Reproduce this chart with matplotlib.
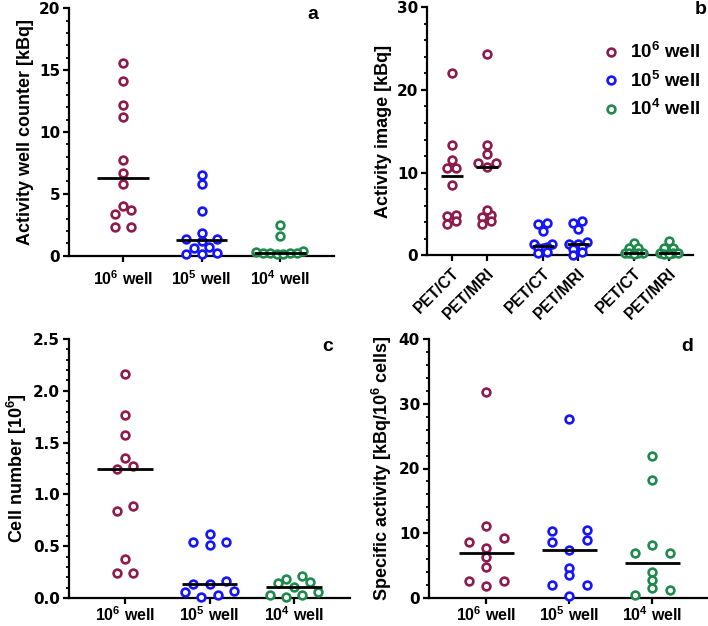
import numpy as np
import matplotlib
matplotlib.use('Agg')
import matplotlib.pyplot as plt
from matplotlib.lines import Line2D
from matplotlib.ticker import MultipleLocator, FormatStrFormatter

plt.rcParams['font.family'] = ['Liberation Sans', 'DejaVu Sans']
plt.rcParams['font.weight'] = 'bold'
plt.rcParams['axes.labelweight'] = 'bold'
plt.rcParams['mathtext.fontset'] = 'custom'
plt.rcParams['mathtext.rm'] = 'Liberation Sans:bold'
plt.rcParams['mathtext.bf'] = 'Liberation Sans:bold'
plt.rcParams['mathtext.it'] = 'Liberation Sans:bold'

# colours for 10^6, 10^5, 10^4 wells
red = '#8c1c4e'
blue = '#1414ff'
green = '#1f8a4c'
colors = [red, blue, green]

well_labels = [r'$\mathbf{10^6}$ well', r'$\mathbf{10^5}$ well', r'$\mathbf{10^4}$ well']
modality_labels = ['PET/CT', 'PET/MRI', 'PET/CT', 'PET/MRI', 'PET/CT', 'PET/MRI']

# a: activity well counter [kBq]
a_1e6 = [15.6, 14.1, 12.2, 11.2, 7.7, 6.7, 5.8, 4.0, 3.4, 3.7, 2.3, 2.3]
a_1e5 = [6.5, 5.8, 3.65, 1.86, 1.35, 1.21, 1.32, 0.68, 0.6, 0.14, 0.19, 0.11]
a_1e4 = [2.5, 1.6, 0.19, 0.38, 0.19, 0.32, 0.11, 0.24, 0.11, 0.19]

# b: activity image [kBq], PET/CT and PET/MRI per well
b_1e6_ct = [22.0, 13.3, 11.5, 10.6, 10.6, 8.5, 4.9, 4.7, 4.2, 3.8]
b_1e6_mri = [24.4, 13.3, 12.3, 11.2, 11.2, 10.65, 4.9, 5.5, 4.6, 3.8, 4.15]
b_1e5_ct = [3.9, 3.78, 2.94, 1.33, 1.33, 1.04, 0.92, 0.92, 0.36, 0.31]
b_1e5_mri = [4.15, 3.94, 3.18, 1.57, 1.33, 1.33, 1.04, 0.73, 0.36, 0.04]
b_1e4_ct = [1.45, 0.84, 0.84, 0.32, 0.24, 0.32, 0.24, 0.16]
b_1e4_mri = [1.77, 0.92, 0.92, 0.32, 0.24, 0.32, 0.16, 0.1]

# c: cell number [10^6]
c_1e6 = [2.16, 1.77, 1.57, 1.35, 1.27, 1.25, 0.89, 0.84, 0.38, 0.24, 0.24]
c_1e5 = [0.615, 0.515, 0.544, 0.544, 0.138, 0.138, 0.167, 0.068, 0.026, 0.055, 0.006]
c_1e4 = [0.216, 0.187, 0.145, 0.158, 0.106, 0.058, 0.026, 0.026, 0.006]

# d: specific activity [kBq/10^6 cells]
d_1e6 = [31.8, 11.1, 9.2, 8.65, 7.7, 6.3, 4.8, 2.6, 2.6, 1.8]
d_1e5 = [27.6, 10.3, 10.45, 8.7, 8.96, 7.46, 4.63, 3.5, 2.06, 2.06, 0.26]
d_1e4 = [21.9, 18.3, 8.2, 6.95, 6.95, 4.0, 2.8, 1.5, 1.3, 0.5]

W, H = 708, 626
fig = plt.figure(figsize=(W / 100, H / 100), dpi=100)


def swarm(ax, values, thr_px, step, maxw):
    # rows of nearby values are spread sideways, centred on the category
    ymin, ymax = ax.get_ylim()
    px_per_unit = ax.get_position().height * H / (ymax - ymin)
    vals = np.asarray(values, dtype=float)
    order = np.argsort(vals, kind='stable')
    sv = vals[order]
    rows = []
    for i, v in enumerate(sv):
        if rows and (v - sv[rows[-1][0]]) * px_per_unit <= thr_px:
            rows[-1].append(i)
        else:
            rows.append([i])
    offs = np.zeros(len(sv))
    for row in rows:
        n = len(row)
        if n == 1:
            continue
        s = min(step, maxw / (n - 1))
        slots = (np.arange(n) - (n - 1) / 2) * s
        slot_order = np.argsort(np.abs(slots) + 1e-6 * slots)
        for idx, si in zip(row, slot_order):
            offs[idx] = slots[si]
    out = np.zeros(len(sv))
    out[order] = offs
    return out


def draw_group(ax, x, values, color, thr_px, step, maxw, half):
    off = swarm(ax, values, thr_px, step, maxw)
    ax.plot(x + off, values, 'o', ms=5.6, mfc='white', mec=color, mew=1.9,
            clip_on=False, zorder=3)
    med = np.median(values)
    ax.plot([x - half, x + half], [med, med], color='black', lw=2,
            solid_capstyle='butt', zorder=4, clip_on=False)


def style_axes(ax, ymax, major, minor, fmt, xpad):
    ax.set_ylim(0, ymax)
    ax.yaxis.set_major_locator(MultipleLocator(major))
    ax.yaxis.set_minor_locator(MultipleLocator(minor))
    ax.yaxis.set_major_formatter(FormatStrFormatter(fmt))
    for side in ['top', 'right']:
        ax.spines[side].set_visible(False)
    for side in ['left', 'bottom']:
        ax.spines[side].set_linewidth(1.6)
    ax.tick_params(axis='both', which='major', length=4.5, width=1.6, pad=2)
    ax.tick_params(axis='y', which='major', labelsize=11, labelfontfamily='DejaVu Sans')
    ax.tick_params(axis='x', which='major', labelsize=11.5, pad=xpad)
    ax.tick_params(axis='y', which='minor', length=2.5, width=1.3)
    ax.tick_params(axis='x', which='minor', bottom=False)


def px_axes(left, top, right, bottom):
    return fig.add_axes([left / W, (H - bottom) / H, (right - left) / W, (bottom - top) / H])


# panel a
ax = px_axes(69, 8.3, 334, 255.7)
style_axes(ax, 20, 5, 1, '%d', 5)
ax.set_xlim(-0.69, 2.69)
for i, vals in enumerate([a_1e6, a_1e5, a_1e4]):
    draw_group(ax, i, vals, colors[i], 5.5, 0.2, 0.6, 0.33)
ax.set_xticks([0, 1, 2])
ax.set_xticklabels(well_labels, fontweight='bold')
ax.set_ylabel('Activity well counter [kBq]', fontsize=13, fontweight='bold', labelpad=3)
ax.text(0.92, 0.975, 'a', transform=ax.transAxes, fontsize=14, fontweight='bold',
        ha='center', va='center')

# panel b
b_pos = [0, 1, 2.6, 3.6, 5.2, 6.2]
b_sets = [b_1e6_ct, b_1e6_mri, b_1e5_ct, b_1e5_mri, b_1e4_ct, b_1e4_mri]
b_cols = [red, red, blue, blue, green, green]
ax = px_axes(427, 7.3, 693, 255.3)
style_axes(ax, 30, 10, 2, '%d', 3)
ax.set_xlim(-0.71, 6.89)
for p, vals, col in zip(b_pos, b_sets, b_cols):
    draw_group(ax, p, vals, col, 4.8, 0.25, 0.5, 0.32)
ax.set_xticks(b_pos)
ax.set_xticklabels(modality_labels, rotation=45, ha='right', rotation_mode='anchor',
                   fontweight='bold', fontsize=11.5)
ax.set_ylabel('Activity image [kBq]', fontsize=13, fontweight='bold', labelpad=3)
ax.text(1.03, 0.99, 'b', transform=ax.transAxes, fontsize=14, fontweight='bold',
        ha='center', va='center')
handles = [Line2D([], [], ls='none', marker='o', ms=5.6, mfc='white', mec=c, mew=1.9)
           for c in colors]
ax.legend(handles, well_labels, loc='upper left', bbox_to_anchor=(0.655, 0.86),
          frameon=False, fontsize=13.5, borderpad=0, handlelength=1.0,
          handletextpad=0.55, labelspacing=0.45, borderaxespad=0)

# panel c
ax = px_axes(69, 339, 350, 598)
style_axes(ax, 2.5, 0.5, 0.1, '%.1f', 1)
ax.set_xlim(-0.66, 2.66)
for i, vals in enumerate([c_1e6, c_1e5, c_1e4]):
    draw_group(ax, i, vals, colors[i], 7, 0.19, 0.6, 0.33)
ax.set_xticks([0, 1, 2])
ax.set_xticklabels(well_labels, fontweight='bold')
ax.set_ylabel(r'Cell number [$\mathbf{10^6}$]', fontsize=13, fontweight='bold', labelpad=3)
ax.text(0.92, 0.97, 'c', transform=ax.transAxes, fontsize=14, fontweight='bold',
        ha='center', va='center')

# panel d
ax = px_axes(429, 339, 707, 598)
style_axes(ax, 40, 10, 2, '%d', 1)
ax.set_xlim(-0.69, 2.66)
for i, vals in enumerate([d_1e6, d_1e5, d_1e4]):
    draw_group(ax, i, vals, colors[i], 5.5, 0.42, 0.42, 0.33)
ax.set_xticks([0, 1, 2])
ax.set_xticklabels(well_labels, fontweight='bold')
ax.set_ylabel(r'Specific activity [kBq/$\mathbf{10^6}$ cells]', fontsize=13,
              fontweight='bold', labelpad=3)
ax.text(0.93, 0.97, 'd', transform=ax.transAxes, fontsize=14, fontweight='bold',
        ha='center', va='center')

fig.savefig('out.png', dpi=100)
